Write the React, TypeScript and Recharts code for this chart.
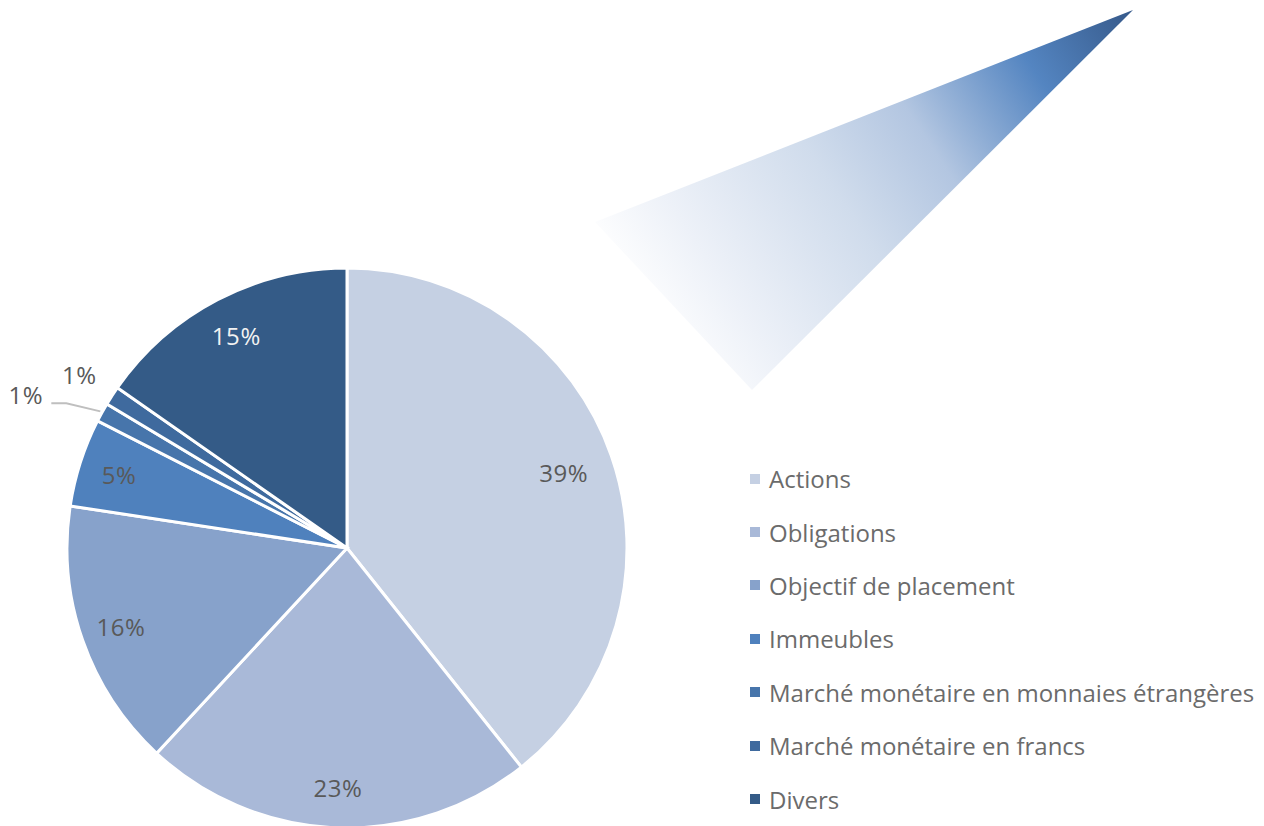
import { PieChart, Pie, Cell, Legend } from 'recharts';

const categories = [
  'Actions',
  'Obligations',
  'Objectif de placement',
  'Immeubles',
  'Marché monétaire en monnaies étrangères',
  'Marché monétaire en francs',
  'Divers',
];
// parts estimées (en %), affichées arrondies
const shares = [39.3, 22.6, 15.5, 5.1, 1.1, 1.1, 15.3];
const COLORS = ['#C5D0E3', '#A9B9D8', '#87A2CB', '#4F81BD', '#4775AB', '#3F6A9E', '#345B87'];
const LABEL_COLORS = ['#595959', '#595959', '#595959', '#595959', '#595959', '#595959', '#F2F2F2'];

const data = categories.map((name, i) => ({ name, value: shares[i] }));

const RAD = Math.PI / 180;
const FONT = '"Open Sans", "Noto Sans", sans-serif';

const renderLabel = (props: any) => {
  const { cx, cy, midAngle, outerRadius, index, value } = props;
  const cos = Math.cos(-midAngle * RAD);
  const sin = Math.sin(-midAngle * RAD);
  const text = `${Math.round(value)}%`;
  const common = {
    dominantBaseline: 'central' as const,
    fill: LABEL_COLORS[index],
    fontSize: 24,
    fontWeight: 400,
    letterSpacing: 0.6,
    fontFamily: FONT,
  };

  if (index === 4) {
    // petite part avec ligne de rappel
    const sx = cx + (outerRadius + 2) * cos;
    const sy = cy + (outerRadius + 2) * sin;
    const mx = sx - 34;
    const my = sy - 8;
    const ex = mx - 15;
    return (
      <g>
        <polyline
          points={`${sx},${sy} ${mx},${my} ${ex},${my}`}
          fill="none"
          stroke="#BFBFBF"
          strokeWidth={2}
        />
        <text x={ex - 8} y={my - 9} textAnchor="end" {...common}>
          {text}
        </text>
      </g>
    );
  }

  const r = index === 5 ? outerRadius + 39 : index === 0 ? outerRadius * 0.82 : outerRadius * 0.855;
  return (
    <text x={cx + r * cos} y={cy + r * sin} textAnchor="middle" {...common}>
      {text}
    </text>
  );
};

const renderLegend = () => (
  <div style={{ fontFamily: FONT, fontSize: 24, fontWeight: 400, color: '#6B6B6B' }}>
    {categories.map((name, i) => (
      <div
        key={name}
        style={{ display: 'flex', alignItems: 'center', height: 53.4, whiteSpace: 'nowrap' }}
      >
        <span
          style={{
            display: 'inline-block',
            width: 10,
            height: 10,
            background: COLORS[i],
            marginRight: 9,
          }}
        />
        <span>{name}</span>
      </div>
    ))}
  </div>
);

export default function App() {
  return (
    <div style={{ position: 'absolute', left: 0, top: 0, width: 1264, height: 826, overflow: 'hidden', background: '#fff' }}>
      <svg width={1264} height={826} style={{ position: 'absolute', left: 0, top: 0 }}>
        <defs>
          <linearGradient id="beam" gradientUnits="userSpaceOnUse" x1={1133} y1={10} x2={650} y2={330}>
            <stop offset="0" stopColor="#36598A" />
            <stop offset="0.2" stopColor="#5485C1" />
            <stop offset="0.42" stopColor="#B3C6E1" />
            <stop offset="0.6" stopColor="#D0DCEC" />
            <stop offset="0.85" stopColor="#EDF1F8" />
            <stop offset="1" stopColor="#FFFFFF" />
          </linearGradient>
        </defs>
        <polygon points="1133,10 595,222 752,390" fill="url(#beam)" />
      </svg>
      <div style={{ position: 'absolute', left: 0, top: 0 }}>
        <PieChart width={1264} height={826} margin={{ top: 0, right: 0, bottom: 0, left: 0 }}>
          <Pie
            data={data}
            dataKey="value"
            nameKey="name"
            cx={347}
            cy={548}
            outerRadius={280}
            startAngle={90}
            endAngle={-270}
            stroke="#FFFFFF"
            strokeWidth={3}
            label={renderLabel}
            labelLine={false}
            isAnimationActive={false}
          >
            {data.map((d, i) => (
              <Cell key={d.name} fill={COLORS[i]} />
            ))}
          </Pie>
          <Legend
            layout="vertical"
            content={renderLegend}
            wrapperStyle={{ position: 'absolute', left: 750, top: 452, width: 514 }}
          />
        </PieChart>
      </div>
    </div>
  );
}
